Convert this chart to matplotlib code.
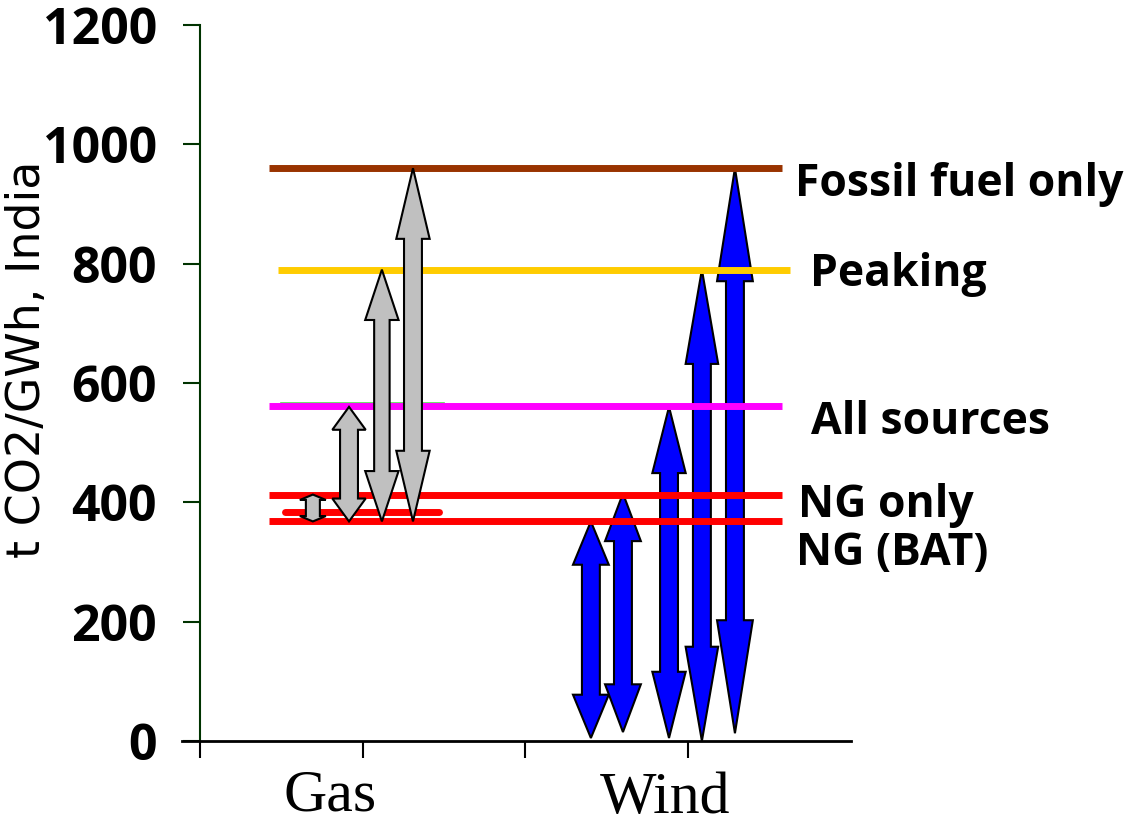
import matplotlib
matplotlib.use("Agg")
import matplotlib.pyplot as plt
from matplotlib.patches import Polygon

# ---------------- data ----------------
categories = ["Gas", "Wind"]
y_ticks = [0, 200, 400, 600, 800, 1000, 1200]

level_names = ["Fossil fuel only", "Peaking", "All sources", "NG only", "NG (BAT)"]
level_values = [960, 790, 562, 413, 368]

gas_low = [368, 368, 368, 368]
gas_high = [413, 560, 790, 960]

wind_low = [5, 15, 5, 0, 13]
wind_high = [368, 415, 560, 790, 960]

mid_red_value = 384      # short red line in gas area
green_value = 566        # thin green line just above "All sources"

# ---------------- styles / layout ----------------
level_colors = ["#993300", "#FFCC00", "#FF00FF", "#FF0000", "#FF0000"]
level_x0 = [0.424, 0.479, 0.424, 0.424, 0.424]
level_x1 = [3.576, 3.625, 3.576, 3.576, 3.576]
label_pos = [(3.656, 913), (3.748, 762), (3.754, 515), (3.674, 376), (3.662, 295)]

gas_x = [0.694, 0.916, 1.118, 1.309]
gas_head_w = [0.16, 0.205, 0.205, 0.205]
gas_shaft_w = [0.086, 0.11, 0.095, 0.11]

wind_x = [2.402, 2.599, 2.882, 3.084, 3.287]
wind_head_w = [0.22, 0.22, 0.205, 0.2, 0.22]
wind_shaft_w = [0.11, 0.11, 0.11, 0.11, 0.11]

HEAD_FRAC = 0.2

W, H = 1126, 827
fig = plt.figure(figsize=(W / 100, H / 100), dpi=100)
ax = fig.add_axes([182 / W, (H - 741) / H, 669 / W, 716 / H])
ax.set_xlim(-0.11, 4)
ax.set_ylim(0, 1200)


def double_arrow(x, y0, y1, head_w, shaft_w, fc, z):
    L = y1 - y0
    h = L * HEAD_FRAC
    hw, sw = head_w / 2, shaft_w / 2
    pts = [(x, y1), (x + hw, y1 - h), (x + sw, y1 - h), (x + sw, y0 + h),
           (x + hw, y0 + h), (x, y0), (x - hw, y0 + h), (x - sw, y0 + h),
           (x - sw, y1 - h), (x - hw, y1 - h)]
    p = Polygon(pts, closed=True, facecolor=fc, edgecolor="black",
                linewidth=1.5, joinstyle="miter", zorder=z)
    ax.add_patch(p)


# wind arrows (below the level lines)
for x, lo, hi, hw, sw in zip(wind_x, wind_low, wind_high, wind_head_w, wind_shaft_w):
    double_arrow(x, lo, hi, hw, sw, "#0000FF", 2)

# level lines
for v, c, x0, x1 in zip(level_values, level_colors, level_x0, level_x1):
    ax.plot([x0, x1], [v, v], color=c, linewidth=5, solid_capstyle="butt", zorder=3)

ax.plot([0.5, 1.5], [green_value, green_value], color="#55DD55", linewidth=1.2, zorder=2.9)
ax.plot([0.52, 1.47], [mid_red_value, mid_red_value], color="#FF0000", linewidth=5,
        solid_capstyle="round", zorder=3)

# gas arrows (above the lines)
for x, lo, hi, hw, sw in zip(gas_x, gas_low, gas_high, gas_head_w, gas_shaft_w):
    double_arrow(x, lo, hi, hw, sw, "#C0C0C0", 4)

# level labels
for name, (lx, ly) in zip(level_names, label_pos):
    ax.text(lx, ly, name, fontsize=32, fontweight="bold", family="Open Sans",
            ha="left", va="baseline", clip_on=False)

# category labels
ax.text(0.80, -116, categories[0], fontsize=43, family="Liberation Serif",
        ha="center", va="baseline", clip_on=False)
ax.text(2.857, -120, categories[1], fontsize=43, family="Liberation Serif",
        ha="center", va="baseline", clip_on=False)

# axes styling
for s in ["top", "right"]:
    ax.spines[s].set_visible(False)
ax.spines["left"].set_position(("data", 0))
ax.spines["left"].set_color("#003300")
ax.spines["left"].set_linewidth(1.5)
ax.spines["bottom"].set_color("black")
ax.spines["bottom"].set_linewidth(2)

ax.set_yticks(y_ticks)
ax.set_yticklabels([str(t) for t in y_ticks])
ax.tick_params(axis="y", direction="out", length=12, width=1.5, color="#003300",
               pad=19, labelsize=36)
for lab in ax.get_yticklabels():
    lab.set_fontfamily("Open Sans")
    lab.set_fontweight("bold")

ax.set_xticks([0, 1, 2, 3])
ax.set_xticklabels([])
ax.tick_params(axis="x", direction="out", length=12, width=1.5, color="black")

fig.text(28 / W, 1 - 359 / H, "t CO2/GWh, India", rotation=90, fontsize=33,
         family="DejaVu Sans", ha="center", va="center")

fig.savefig("out.png", dpi=100, facecolor="white")
